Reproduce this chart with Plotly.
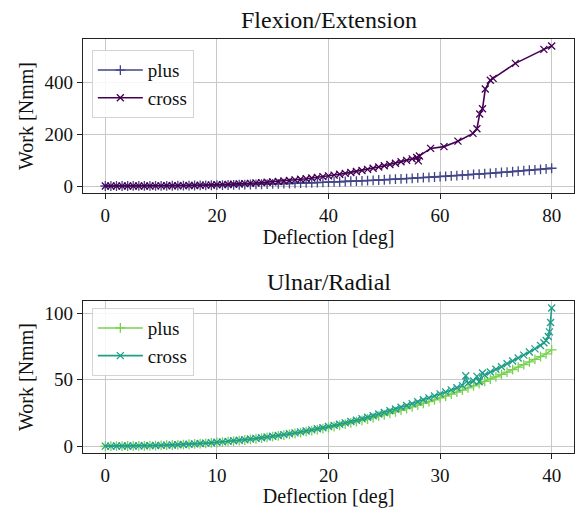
import plotly.graph_objects as go

# ---------------- data: Flexion/Extension ----------------
fe_plus_x = list(range(0, 81))
fe_plus_y = [0.0, 0.0, 0.02, 0.05, 0.09, 0.15, 0.23, 0.32, 0.43, 0.56,
             0.70, 0.87, 1.05, 1.25, 1.47, 1.71, 1.97, 2.25, 2.55, 2.88,
             3.22, 3.59, 3.97, 4.38, 4.81, 5.26, 5.73, 6.23, 6.75, 7.29,
             7.86, 8.45, 9.06, 9.70, 10.36, 11.03, 11.74, 12.46, 13.22, 14.0,
             14.8, 15.6, 16.5, 17.3, 18.3, 19.2, 20.1, 21.1, 22.1, 23.1,
             24.2, 25.2, 26.4, 27.5, 28.6, 29.8, 31.0, 32.3, 33.5, 34.8,
             36.1, 37.5, 38.8, 40.2, 41.6, 43.0, 44.5, 46.0, 47.5, 49.1,
             50.7, 52.3, 53.9, 55.6, 57.3, 59.0, 60.7, 62.5, 64.3, 66.1,
             68.5]

fe_cross_x = list(range(0, 56)) + [55.8, 56.1, 56.3, 58.3, 60.7, 63.2, 65.9,
                                   66.6, 67.1, 67.6, 68.1, 69.0, 69.5, 73.5,
                                   78.6, 80.0]
fe_cross_y = [0.0, 0.0, 0.0, 0.01, 0.03, 0.06, 0.11, 0.18, 0.27, 0.38,
              0.53, 0.71, 0.93, 1.20, 1.51, 1.87, 2.28, 2.75, 3.28, 3.88,
              4.55, 5.29, 6.11, 7.02, 8.0, 9.08, 10.26, 11.54, 12.9, 14.4,
              16.0, 17.7, 19.5, 21.5, 23.6, 25.8, 28.1, 30.6, 33.3, 36.1,
              39.0, 42.1, 45.4, 48.8, 52.4, 56.2, 60.1, 64.3, 68.6, 73.1,
              77.9, 82.8, 88.0, 93.3, 98.9, 104.7,
              110.0, 97.0, 116.0, 145.0, 152.0, 173.0, 203.0,
              221.0, 278.0, 298.0, 374.0, 408.0, 415.0, 473.0,
              527.0, 540.0]

# ---------------- data: Ulnar/Radial ----------------
ur_plus_x = [i * 0.5 for i in range(0, 81)]
ur_plus_y = [0.0, 0.002, 0.012, 0.03, 0.06, 0.10, 0.16, 0.23, 0.31, 0.41,
             0.53, 0.66, 0.81, 0.98, 1.17, 1.37, 1.60, 1.85, 2.11, 2.40,
             2.71, 3.04, 3.40, 3.77, 4.17, 4.59, 5.04, 5.51, 6.0, 6.52,
             7.06, 7.63, 8.23, 8.85, 9.49, 10.16, 10.85, 11.59, 12.35, 13.13,
             13.93, 14.77, 15.64, 16.53, 17.44, 18.39, 19.37, 20.38, 21.41, 22.49,
             23.59, 24.71, 25.86, 27.05, 28.27, 29.53, 30.81, 32.11, 33.44, 34.83,
             36.26, 37.69, 39.16, 40.67, 42.21, 43.79, 45.41, 47.05, 48.73, 50.44,
             52.18, 53.95, 55.76, 57.6, 59.49, 61.4, 63.35, 65.33, 67.35, 69.41,
             72.5]

ur_cross_x = [i * 0.5 for i in range(0, 65)] + [32.3, 32.5, 33.0, 33.3, 33.5,
              33.8, 34.0, 34.5, 35.0, 35.5, 36.0, 36.5, 37.0, 37.5, 38.0,
              38.5, 39.0, 39.3, 39.5, 39.7, 39.8, 39.9, 40.0]
ur_cross_y = [0.0, 0.0, 0.02, 0.04, 0.07, 0.11, 0.17, 0.25, 0.33, 0.43,
              0.56, 0.70, 0.85, 1.03, 1.22, 1.44, 1.68, 1.94, 2.21, 2.52,
              2.84, 3.19, 3.56, 3.96, 4.38, 4.82, 5.29, 5.79, 6.3, 6.85,
              7.42, 8.02, 8.65, 9.3, 9.98, 10.69, 11.42, 12.2, 13.0, 13.83,
              14.7, 15.6, 16.5, 17.5, 18.5, 19.5, 20.6, 21.7, 22.9, 24.1,
              25.3, 26.6, 27.9, 29.2, 30.6, 32.0, 33.4, 34.9, 36.3, 37.8,
              39.3, 40.8, 42.3, 43.9, 45.5,
              53.0, 47.3, 49.0, 52.5, 48.5,
              55.0, 53.5, 55.8, 57.8, 59.8, 62.0, 64.1, 66.3, 68.5, 70.8,
              73.2, 75.8, 77.8, 79.5, 82.5, 86.0, 93.0, 104.0]

fe_ticks = [0, 20, 40, 60, 80]
fe_yticks = [0, 200, 400]
ur_ticks = [0, 10, 20, 30, 40]
ur_yticks = [0, 50, 100]

series_labels = ["plus", "cross"]
titles = ["Flexion/Extension", "Ulnar/Radial"]
x_label = "Deflection [deg]"
y_label = "Work [Nmm]"

FONT = "Liberation Serif"
C_FE_PLUS = "#414487"
C_FE_CROSS = "#440154"
C_UR_PLUS = "#7ad151"
C_UR_CROSS = "#1f9e89"

fig = go.Figure()


def add(x, y, name, color, symbol, xa, ya, legend):
    fig.add_trace(go.Scatter(
        x=x, y=y, name=name, mode="lines+markers",
        line=dict(color=color, width=1.6),
        marker=dict(symbol=symbol, size=7, color=color,
                    line=dict(color=color, width=1.3)),
        xaxis=xa, yaxis=ya, legend=legend,
    ))


add(fe_plus_x, fe_plus_y, series_labels[0], C_FE_PLUS, "cross-thin", "x", "y", "legend")
add(fe_cross_x, fe_cross_y, series_labels[1], C_FE_CROSS, "x-thin", "x", "y", "legend")
add(ur_plus_x, ur_plus_y, series_labels[0], C_UR_PLUS, "cross-thin", "x2", "y2", "legend2")
add(ur_cross_x, ur_cross_y, series_labels[1], C_UR_CROSS, "x-thin", "x2", "y2", "legend2")

axis_common = dict(
    showgrid=True, gridcolor="#c8c8c8", gridwidth=1,
    zeroline=False, showline=True, linecolor="#222222", linewidth=1.2,
    mirror=True, ticks="outside", ticklen=5, tickcolor="#222222",
    tickfont=dict(family=FONT, size=19, color="#111111"),
)

legend_common = dict(
    xanchor="left", yanchor="top", itemwidth=45,
    bgcolor="rgba(255,255,255,0.85)", bordercolor="#d4d4d4", borderwidth=1,
    font=dict(family=FONT, size=19), tracegroupgap=0,
)

fig.update_layout(
    width=579, height=508,
    margin=dict(l=83, r=5, t=39, b=55),
    paper_bgcolor="white", plot_bgcolor="white",
    font=dict(family=FONT, size=19, color="#111111"),
    xaxis=dict(domain=[0, 1], anchor="y", range=[-4, 84], tickvals=fe_ticks,
               title=dict(text=x_label, font=dict(family=FONT, size=20), standoff=2),
               **axis_common),
    yaxis=dict(domain=[0.628, 1], anchor="x", range=[-27, 567], tickvals=fe_yticks,
               title=dict(text=y_label, font=dict(family=FONT, size=20), standoff=5),
               **axis_common),
    xaxis2=dict(domain=[0, 1], anchor="y2", range=[-2, 42], tickvals=ur_ticks,
                title=dict(text=x_label, font=dict(family=FONT, size=20), standoff=2),
                **axis_common),
    yaxis2=dict(domain=[0, 0.367], anchor="x2", range=[-5.2, 109.2], tickvals=ur_yticks,
                title=dict(text=y_label, font=dict(family=FONT, size=20), standoff=5),
                **axis_common),
    legend=dict(x=0.018, y=0.973, **legend_common),
    legend2=dict(x=0.018, y=0.35, **legend_common),
    showlegend=True,
    annotations=[
        dict(text=titles[0], x=0.5, y=1.045, xref="paper", yref="paper",
             xanchor="center", yanchor="middle", showarrow=False,
             font=dict(family=FONT, size=24, color="#111111")),
        dict(text=titles[1], x=0.5, y=0.413, xref="paper", yref="paper",
             xanchor="center", yanchor="middle", showarrow=False,
             font=dict(family=FONT, size=24, color="#111111")),
    ],
)

fig.write_html("out.html", config={"displayModeBar": False},
               post_script="document.body.style.margin='0';")
